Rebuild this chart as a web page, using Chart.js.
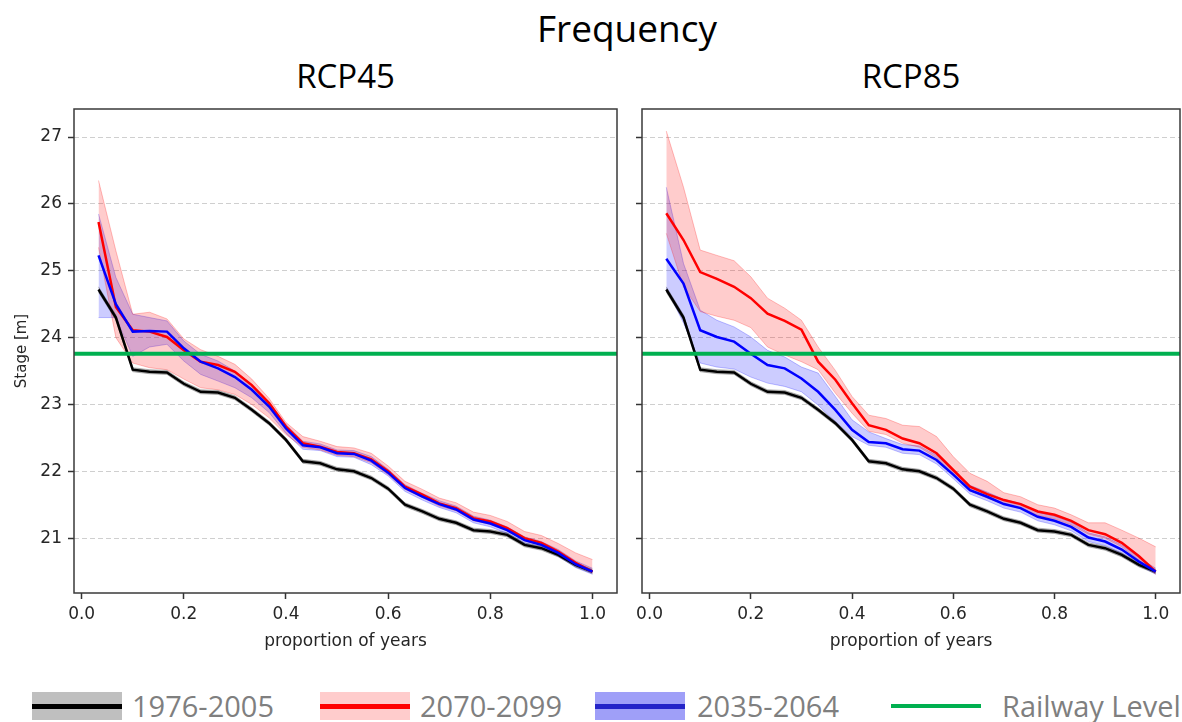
<!DOCTYPE html>
<html lang="en">
<head>
  <meta charset="UTF-8" />
  <title>Frequency</title>
  <script src="https://cdn.jsdelivr.net/npm/chart.js@4"></script>
  <style>
    body {
      margin: 0;
      width: 1182px;
      height: 722px;
      overflow: hidden;
      background: #ffffff;
      position: relative;
      font-family: 'Open Sans', sans-serif;
    }
    .txt {
      position: absolute;
      line-height: 1;
      white-space: nowrap;
    }
    #title { top: 9px; left: 0; width: 1254px; text-align: center; font-size: 37px; color: #000; }
    .sub { top: 59px; font-size: 33px; color: #000; text-align: center; }
    canvas { position: absolute; top: 100px; }
    #leftChart { left: 0; }
    #rightChart { left: 622px; }
    .patch { position: absolute; top: 692px; width: 90px; height: 28px; }
    .patch div { position: absolute; left: 0; right: 0; top: 12px; height: 5px; }
    .leg { top: 691px; font-size: 29px; color: #7f7f7f; }
  </style>
</head>
<body>
  <div class="txt" id="title">Frequency</div>
  <div class="txt sub" style="left:74px;width:543px;">RCP45</div>
  <div class="txt sub" style="left:642px;width:538px;">RCP85</div>

  <canvas id="leftChart" width="622" height="560"></canvas>
  <canvas id="rightChart" width="560" height="560"></canvas>

  <div class="patch" style="left:32px;background:#bfbfbf;"><div style="background:#000;"></div></div>
  <div class="txt leg" style="left:132px;">1976-2005</div>
  <div class="patch" style="left:320px;background:#ffcccc;"><div style="background:#ff0000;"></div></div>
  <div class="txt leg" style="left:420px;">2070-2099</div>
  <div class="patch" style="left:595px;background:#9f9ff8;"><div style="background:#2424c8;"></div></div>
  <div class="txt leg" style="left:697px;">2035-2064</div>
  <div class="patch" style="left:891px;top:704px;height:4px;background:#00b050;"></div>
  <div class="txt leg" style="left:1002px;">Railway Level</div>

  <script>
    // proportion of years (x)
    const propYears = [0.033, 0.067, 0.100, 0.133, 0.167, 0.200, 0.233, 0.267, 0.300, 0.333,
                       0.367, 0.400, 0.433, 0.467, 0.500, 0.533, 0.567, 0.600, 0.633, 0.667,
                       0.700, 0.733, 0.767, 0.800, 0.833, 0.867, 0.900, 0.933, 0.967, 1.000];

    // 1976-2005 (same in both panels)
    const histMean  = [24.72, 24.30, 23.52, 23.49, 23.48, 23.31, 23.19, 23.18, 23.10, 22.92,
                       22.72, 22.47, 22.15, 22.12, 22.03, 22.00, 21.90, 21.74, 21.50, 21.40,
                       21.29, 21.23, 21.12, 21.10, 21.05, 20.90, 20.85, 20.75, 20.60, 20.50];
    const histUpper = [24.76, 24.34, 23.55, 23.52, 23.51, 23.34, 23.22, 23.21, 23.13, 22.95,
                       22.75, 22.50, 22.18, 22.15, 22.06, 22.03, 21.93, 21.77, 21.53, 21.43,
                       21.32, 21.26, 21.15, 21.13, 21.08, 20.93, 20.88, 20.78, 20.63, 20.53];
    const histLower = [24.68, 24.26, 23.49, 23.46, 23.45, 23.28, 23.16, 23.15, 23.07, 22.89,
                       22.69, 22.44, 22.12, 22.09, 22.00, 21.97, 21.87, 21.71, 21.47, 21.37,
                       21.26, 21.20, 21.09, 21.07, 21.02, 20.87, 20.82, 20.72, 20.57, 20.47];

    // RCP45
    const rcp45FarMean  = [25.73, 24.46, 24.11, 24.09, 24.01, 23.81, 23.64, 23.59, 23.49, 23.29,
                           23.02, 22.67, 22.42, 22.37, 22.29, 22.27, 22.18, 22.00, 21.77, 21.65,
                           21.52, 21.45, 21.30, 21.25, 21.15, 21.00, 20.93, 20.80, 20.63, 20.50];
    const rcp45FarUpper = [26.35, 25.30, 24.35, 24.38, 24.28, 23.98, 23.82, 23.72, 23.60, 23.38,
                           23.09, 22.73, 22.52, 22.45, 22.37, 22.35, 22.27, 22.08, 21.85, 21.73,
                           21.60, 21.53, 21.39, 21.34, 21.25, 21.10, 21.04, 20.92, 20.78, 20.68];
    const rcp45FarLower = [25.35, 24.00, 23.62, 23.55, 23.52, 23.38, 23.25, 23.22, 23.15, 23.00,
                           22.80, 22.55, 22.36, 22.32, 22.24, 22.22, 22.13, 21.95, 21.73, 21.61,
                           21.48, 21.41, 21.26, 21.21, 21.11, 20.96, 20.89, 20.76, 20.59, 20.48];
    const rcp45MidMean  = [25.23, 24.50, 24.09, 24.10, 24.09, 23.84, 23.64, 23.54, 23.41, 23.22,
                           22.97, 22.64, 22.39, 22.36, 22.27, 22.26, 22.16, 21.98, 21.75, 21.62,
                           21.51, 21.43, 21.28, 21.22, 21.12, 20.97, 20.90, 20.78, 20.61, 20.50];
    const rcp45MidUpper = [25.85, 24.90, 24.35, 24.30, 24.25, 23.95, 23.75, 23.65, 23.50, 23.30,
                           23.03, 22.70, 22.45, 22.41, 22.32, 22.31, 22.22, 22.03, 21.80, 21.67,
                           21.56, 21.48, 21.33, 21.27, 21.17, 21.02, 20.95, 20.83, 20.66, 20.55];
    const rcp45MidLower = [24.30, 24.30, 23.72, 23.86, 23.90, 23.65, 23.45, 23.35, 23.25, 23.10,
                           22.88, 22.57, 22.33, 22.31, 22.22, 22.21, 22.10, 21.93, 21.70, 21.57,
                           21.46, 21.38, 21.23, 21.17, 21.07, 20.92, 20.85, 20.73, 20.56, 20.46];

    // RCP85
    const rcp85FarMean  = [25.86, 25.46, 24.98, 24.88, 24.76, 24.59, 24.36, 24.25, 24.12, 23.64,
                           23.37, 23.02, 22.69, 22.62, 22.49, 22.42, 22.27, 22.02, 21.77, 21.66,
                           21.57, 21.51, 21.40, 21.35, 21.26, 21.12, 21.06, 20.93, 20.73, 20.50];
    const rcp85FarUpper = [27.09, 26.25, 25.31, 25.23, 25.15, 24.91, 24.59, 24.44, 24.26, 23.86,
                           23.51, 23.12, 22.84, 22.79, 22.69, 22.67, 22.52, 22.22, 21.97, 21.85,
                           21.68, 21.62, 21.50, 21.45, 21.35, 21.23, 21.23, 21.12, 21.00, 20.87];
    const rcp85FarLower = [25.56, 24.76, 24.39, 24.32, 24.26, 24.15, 23.86, 23.74, 23.64, 23.52,
                           23.17, 22.87, 22.60, 22.55, 22.42, 22.36, 22.20, 21.95, 21.71, 21.60,
                           21.51, 21.45, 21.34, 21.29, 21.20, 21.06, 21.00, 20.87, 20.67, 20.46];
    const rcp85MidMean  = [25.18, 24.81, 24.11, 24.01, 23.94, 23.76, 23.59, 23.54, 23.39, 23.19,
                           22.92, 22.62, 22.44, 22.42, 22.33, 22.31, 22.17, 21.95, 21.72, 21.62,
                           21.51, 21.45, 21.32, 21.26, 21.17, 21.01, 20.95, 20.83, 20.65, 20.50];
    const rcp85MidUpper = [26.25, 25.11, 24.41, 24.26, 24.16, 24.01, 23.81, 23.71, 23.56, 23.47,
                           23.12, 22.77, 22.59, 22.49, 22.40, 22.38, 22.24, 22.02, 21.79, 21.69,
                           21.58, 21.52, 21.39, 21.33, 21.24, 21.08, 21.02, 20.90, 20.71, 20.55];
    const rcp85MidLower = [24.74, 24.22, 23.62, 23.56, 23.53, 23.41, 23.32, 23.27, 23.19, 22.99,
                           22.74, 22.52, 22.39, 22.36, 22.27, 22.25, 22.11, 21.89, 21.66, 21.56,
                           21.45, 21.39, 21.26, 21.20, 21.11, 20.95, 20.89, 20.77, 20.59, 20.46];

    const railwayLevel = 23.76;

    const xTicks = [0.0, 0.2, 0.4, 0.6, 0.8, 1.0];
    const yTicks = [21, 22, 23, 24, 25, 26, 27];
    const X_MIN = -0.015, X_MAX = 1.048;
    const Y_MIN = 20.18, Y_MAX = 27.42;

    const tickFont = { family: 'DejaVu Sans', size: 17 };
    const textColor = '#262626';

    function xy(arr) {
      return arr.map((v, i) => ({ x: propYears[i], y: v }));
    }

    function band(upper, lower, fillColor, edgeColor) {
      return [
        { data: xy(upper), backgroundColor: fillColor, borderColor: edgeColor, borderWidth: 1,
          fill: '+1', pointRadius: 0, tension: 0, order: 5 },
        { data: xy(lower), backgroundColor: fillColor, borderColor: edgeColor, borderWidth: 1,
          fill: false, pointRadius: 0, tension: 0, order: 5 }
      ];
    }

    function line(values, color, order) {
      return { data: xy(values), borderColor: color, borderWidth: 2.5, fill: false,
               pointRadius: 0, tension: 0, order: order };
    }

    // box around the plot area, like matplotlib spines
    const frame = {
      id: 'frame',
      afterDatasetsDraw(chart) {
        const { ctx, chartArea: a } = chart;
        ctx.save();
        ctx.strokeStyle = '#3a3a3a';
        ctx.lineWidth = 1.5;
        ctx.strokeRect(a.left, a.top, a.right - a.left, a.bottom - a.top);
        ctx.restore();
      }
    };

    // keep both plot areas at the same fixed place
    function noPad(s) {
      s.paddingTop = 0; s.paddingBottom = 0; s.paddingLeft = 0; s.paddingRight = 0;
    }

    function makeChart(id, far, mid, showY, yWidth, padRight) {
      const datasets = [
        ...band(histUpper, histLower, 'rgba(0,0,0,0.25)', 'rgba(0,0,0,0.25)'),
        ...band(far.upper, far.lower, 'rgba(255,0,0,0.2)', 'rgba(255,0,0,0.25)'),
        ...band(mid.upper, mid.lower, 'rgba(0,0,255,0.2)', 'rgba(0,0,255,0.25)'),
        line(histMean, '#000000', 3),
        line(far.mean, '#ff0000', 2),
        line(mid.mean, '#0000ff', 1),
        { data: [{ x: X_MIN, y: railwayLevel }, { x: X_MAX, y: railwayLevel }],
          borderColor: '#00b050', borderWidth: 4, fill: false, pointRadius: 0, order: 0 }
      ];

      return new Chart(document.getElementById(id), {
        type: 'line',
        data: { datasets },
        plugins: [frame],
        options: {
          responsive: false,
          animation: false,
          layout: { padding: { top: 9, right: padRight, left: 0, bottom: 0 } },
          plugins: { legend: { display: false }, tooltip: { enabled: false } },
          scales: {
            x: {
              type: 'linear',
              min: X_MIN,
              max: X_MAX,
              afterBuildTicks: s => { s.ticks = xTicks.map(v => ({ value: v })); },
              afterFit: s => { s.height = 67; noPad(s); },
              grid: { drawOnChartArea: false, drawTicks: true, tickLength: 6,
                      tickColor: '#333333', tickWidth: 1.5, tickBorderDash: [] },
              border: { display: false },
              ticks: { color: textColor, font: tickFont, padding: 5, maxRotation: 0,
                       autoSkip: false, callback: v => v.toFixed(1) },
              title: { display: true, text: 'proportion of years', color: textColor,
                       font: { family: 'DejaVu Sans', size: 17 }, padding: { top: 0, bottom: 8 } }
            },
            y: {
              type: 'linear',
              min: Y_MIN,
              max: Y_MAX,
              afterBuildTicks: s => { s.ticks = yTicks.map(v => ({ value: v })); },
              afterFit: s => { s.width = yWidth; noPad(s); },
              grid: { color: '#cfcfcf', lineWidth: 1, drawTicks: true, tickLength: 6,
                      tickColor: '#333333', tickWidth: 1.5, tickBorderDash: [] },
              border: { display: false, dash: [5, 3] },
              ticks: { display: showY, color: textColor, font: tickFont, padding: 6 },
              title: { display: showY, text: 'Stage [m]', color: textColor,
                       font: { family: 'DejaVu Sans', size: 15 }, padding: { top: 13, bottom: 0 } }
            }
          }
        }
      });
    }

    makeChart('leftChart',
      { mean: rcp45FarMean, upper: rcp45FarUpper, lower: rcp45FarLower },
      { mean: rcp45MidMean, upper: rcp45MidUpper, lower: rcp45MidLower },
      true, 74, 5);

    makeChart('rightChart',
      { mean: rcp85FarMean, upper: rcp85FarUpper, lower: rcp85FarLower },
      { mean: rcp85MidMean, upper: rcp85MidUpper, lower: rcp85MidLower },
      false, 20, 2);
  </script>
</body>
</html>
